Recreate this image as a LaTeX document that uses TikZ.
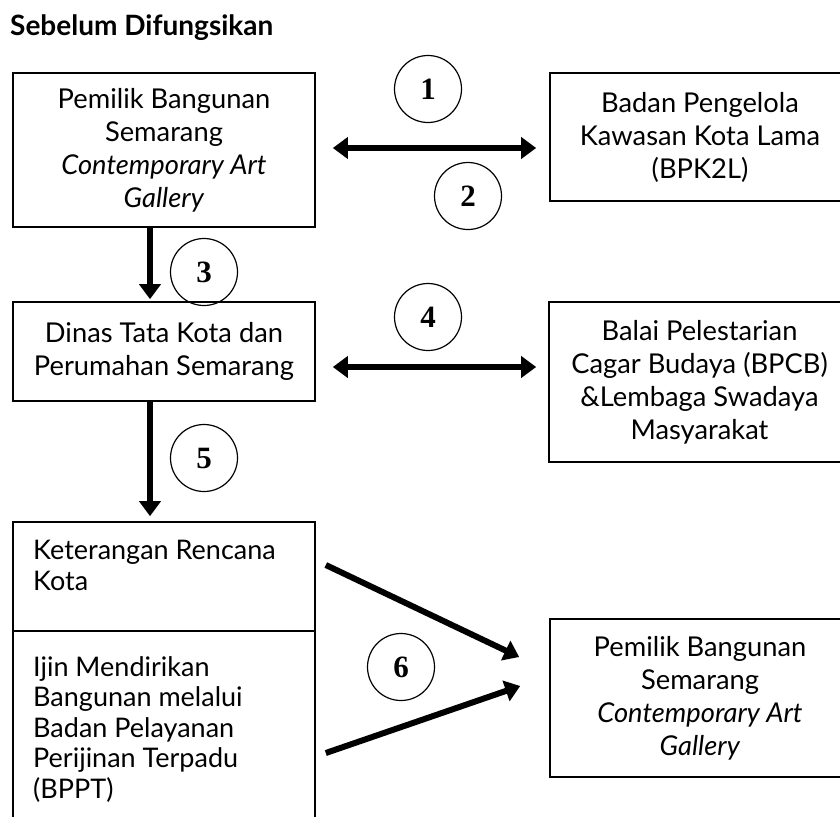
\documentclass[tikz,border=0pt]{standalone}
\usepackage{fontspec}
\setmainfont{Lato}
\newfontfamily\numfont{Liberation Serif}
\usetikzlibrary{arrows.meta,calc}
\begin{document}
\begin{tikzpicture}[x=1pt,y=-1pt,
 box/.style={draw, line width=1.6pt, inner sep=0pt, align=center, font=\fontsize{27.3}{33}\selectfont},
 plain/.style={draw, line width=1.6pt, inner sep=0pt},
 lefttext/.style={inner sep=0pt, align=left, anchor=north west, font=\fontsize{27}{30.5}\selectfont},
 num/.style={draw, circle, line width=1.2pt, minimum size=67pt, inner sep=0pt, font=\numfont\bfseries\fontsize{31}{31}\selectfont},
 arr/.style={line width=6pt, -{Triangle[length=15pt,width=21pt]}},
 darr/.style={line width=6pt, {Triangle[length=15pt,width=21pt]}-{Triangle[length=15pt,width=21pt]}}]
\useasboundingbox (0,0) rectangle (840,816);
\node[anchor=base west, inner sep=0pt, font=\bfseries\fontsize{28}{28}\selectfont] (title) at (10,36) {Sebelum Difungsikan};

\node[box, minimum width=302pt, minimum height=154pt] (b1) at (164,150) {Pemilik Bangunan\\Semarang\\\textit{Contemporary Art}\\\textit{Gallery}};
\node[box, minimum width=300pt, minimum height=128pt] (bpk) at (700,137) {Badan Pengelola\\Kawasan Kota Lama\\(BPK2L)};
\node[box, minimum width=302pt, minimum height=99pt] (b2) at (164,351.5) {Dinas Tata Kota dan\\Perumahan Semarang};
\node[box, minimum width=301pt, minimum height=160pt] (bpcb) at (699.5,382) {Balai Pelestarian\\Cagar Budaya (BPCB)\\\&Lembaga Swadaya\\Masyarakat};
\node[plain, minimum width=302pt, minimum height=109pt] (krk) at (164,576.5) {};
\node[plain, minimum width=302pt, minimum height=209pt] (imb) at (164,735.5) {};
\node[lefttext] (krkt) at (33,540) {Keterangan Rencana\\Kota};
\node[lefttext] (imbt) at (33,656) {Ijin Mendirikan\\Bangunan melalui\\Badan Pelayanan\\Perijinan Terpadu\\(BPPT)};
\node[box, minimum width=300pt, minimum height=158pt] (fin) at (700,698) {Pemilik Bangunan\\Semarang\\\textit{Contemporary Art}\\\textit{Gallery}};

\node[num] (c1) at (428,89) {1};
\node[num] (c2) at (468,196) {2};
\node[num] (c3) at (204,272) {3};
\node[num] (c4) at (428,317) {4};
\node[num] (c5) at (204,458) {5};
\node[num] (c6) at (401,667) {6};

\draw[darr] ($(b1.east)+(17,-2)$) -- ($(bpk.west)+(-13,11)$);
\draw[darr] ($(b2.east)+(17,15.5)$) -- ($(bpcb.west)+(-12,-15)$);
\draw[arr] ($(b1.south)+(-14,0)$) -- ($(b2.north)+(-14,-2)$);
\draw[arr] ($(b2.south)+(-14,0)$) -- ($(krk.north)+(-14,-5)$);
\draw[arr] ($(krk.east)+(10,-11.5)$) -- ($(fin.west)+(-30,-41)$);
\draw[arr] ($(imb.east)+(10,17.5)$) -- ($(fin.west)+(-29,-12)$);
\end{tikzpicture}
\end{document}
